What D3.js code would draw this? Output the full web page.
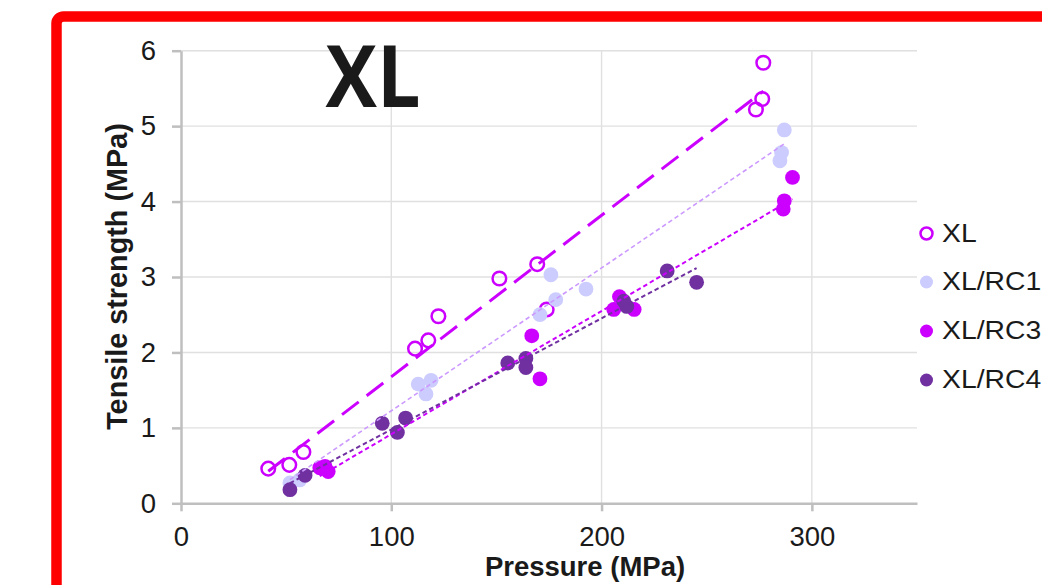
<!DOCTYPE html>
<html>
<head>
<meta charset="utf-8">
<script src="https://cdn.jsdelivr.net/npm/d3@7"></script>
<style>
  html, body { margin: 0; padding: 0; background: #ffffff; }
  svg { display: block; }
  text { font-family: "Liberation Sans", Arial, sans-serif; fill: #1a1a1a; }
</style>
</head>
<body>
<svg id="chart" width="1042" height="585"></svg>
<script>
// Tensile strength vs compaction pressure for XL and its RC blends
const seriesNames = ["XL", "XL/RC1", "XL/RC3", "XL/RC4"];

const xlPressure  = [41.5, 51.5, 58.2, 111.3, 117.6, 122.4, 151.4, 169.4, 173.9, 273.4, 276.4, 276.9];
const xlStrength  = [0.46, 0.51, 0.68, 2.05, 2.16, 2.48, 2.98, 3.17, 2.57, 5.22, 5.36, 5.84];

const rc1Pressure = [51.8, 56.4, 112.8, 116.5, 118.9, 170.7, 175.9, 178.2, 192.6, 284.8, 285.6, 286.9];
const rc1Strength = [0.27, 0.31, 1.58, 1.45, 1.63, 2.50, 3.03, 2.70, 2.84, 4.54, 4.65, 4.95];

const rc3Pressure = [66.0, 68.5, 70.0, 166.8, 170.7, 205.8, 208.5, 215.5, 286.4, 286.9, 290.8];
const rc3Strength = [0.47, 0.49, 0.42, 2.22, 1.65, 2.57, 2.74, 2.57, 3.90, 4.01, 4.32];

const rc4Pressure = [51.8, 59.0, 95.7, 102.9, 106.8, 155.4, 164.0, 164.0, 210.6, 212.0, 231.2, 245.2];
const rc4Strength = [0.18, 0.37, 1.06, 0.94, 1.13, 1.86, 1.92, 1.80, 2.68, 2.61, 3.08, 2.93];

const xTicks = [0, 100, 200, 300];
const yTicks = [0, 1, 2, 3, 4, 5, 6];

const chartTitle = "XL";
const xTitle = "Pressure (MPa)";
const yTitle = "Tensile strength (MPa)";

// Marker and trendline styling per series
const styles = [
  { color: "#cc00ff", hollow: true,  trend: "#cc00ff", dash: "21,10", trendWidth: 3 },
  { color: "#ccccff", hollow: false, trend: "#cc99ff", dash: "4.5,3", trendWidth: 1.6 },
  { color: "#cc00ff", hollow: false, trend: "#cc00ff", dash: "4.5,3", trendWidth: 2 },
  { color: "#7030a0", hollow: false, trend: "#7030a0", dash: "4.5,3", trendWidth: 2 }
];

const pressures = [xlPressure, rc1Pressure, rc3Pressure, rc4Pressure];
const strengths = [xlStrength, rc1Strength, rc3Strength, rc4Strength];

const series = seriesNames.map((name, i) => ({
  name,
  style: styles[i],
  points: pressures[i].map((p, j) => ({ x: p, y: strengths[i][j] }))
}));

const svg = d3.select("#chart");

// Red frame running off the right and bottom edges
svg.append("rect")
  .attr("x", 56.5).attr("y", 16.5)
  .attr("width", 1100).attr("height", 700)
  .attr("rx", 7)
  .attr("fill", "#ffffff")
  .attr("stroke", "#ff0000")
  .attr("stroke-width", 10.5);

const x = d3.scaleLinear().domain([0, 350]).range([181, 917]);
const y = d3.scaleLinear().domain([0, 6]).range([503.3, 50.7]);

// Gridlines
const grid = svg.append("g");
grid.selectAll("line.h").data(yTicks.filter(d => d > 0)).join("line")
  .attr("x1", x(0)).attr("x2", x(350))
  .attr("y1", d => y(d)).attr("y2", d => y(d))
  .attr("stroke", "#e0e0e0").attr("stroke-width", 1.4);
grid.selectAll("line.v").data(xTicks.filter(d => d > 0)).join("line")
  .attr("y1", y(0)).attr("y2", y(6))
  .attr("x1", d => x(d)).attr("x2", d => x(d))
  .attr("stroke", "#e0e0e0").attr("stroke-width", 1.4);

// Axes
const xAxis = svg.append("g")
  .attr("transform", `translate(0,${y(0)})`)
  .call(d3.axisBottom(x).tickValues(xTicks).tickFormat(d3.format("d"))
    .tickSize(8).tickSizeOuter(0).tickPadding(15));
const yAxis = svg.append("g")
  .attr("transform", `translate(${x(0)},0)`)
  .call(d3.axisLeft(y).tickValues(yTicks).tickFormat(d3.format("d"))
    .tickSize(9).tickSizeOuter(0).tickPadding(16));

[xAxis, yAxis].forEach(a => {
  a.select(".domain").attr("stroke", "#bfbfbf").attr("stroke-width", 2.5);
  a.selectAll(".tick line").attr("stroke", "#bfbfbf").attr("stroke-width", 2.5);
  a.selectAll(".tick text")
    .attr("fill", "#1a1a1a")
    .style("font-family", "'Liberation Sans', Arial, sans-serif")
    .style("font-size", "27.5px");
});

// Axis titles
svg.append("text")
  .attr("x", 585).attr("y", 576)
  .attr("text-anchor", "middle")
  .style("font-size", "27.5px").style("font-weight", "bold")
  .text(xTitle);

svg.append("text")
  .attr("transform", "translate(127,276.5) rotate(-90)")
  .attr("text-anchor", "middle")
  .style("font-size", "28.8px").style("font-weight", "bold")
  .text(yTitle);

// Chart title
svg.append("text")
  .attr("x", 373).attr("y", 106.7)
  .attr("text-anchor", "middle")
  .attr("textLength", 95)
  .attr("lengthAdjust", "spacingAndGlyphs")
  .style("font-family", "'Open Sans', sans-serif")
  .style("font-size", "86px").style("font-weight", "bold")
  .attr("fill", "#000000")
  .text(chartTitle);

// Markers
const markerLayer = svg.append("g");
series.forEach(s => {
  markerLayer.append("g").selectAll("circle").data(s.points).join("circle")
    .attr("cx", d => x(d.x)).attr("cy", d => y(d.y))
    .attr("r", s.style.hollow ? 6.8 : 7.4)
    .attr("fill", s.style.hollow ? "none" : s.style.color)
    .attr("stroke", s.style.hollow ? s.style.color : "none")
    .attr("stroke-width", s.style.hollow ? 2.5 : 0);
});

// Linear least-squares trendlines spanning each series' pressure range
function fit(points) {
  const mx = d3.mean(points, d => d.x), my = d3.mean(points, d => d.y);
  const sxy = d3.sum(points, d => (d.x - mx) * (d.y - my));
  const sxx = d3.sum(points, d => (d.x - mx) ** 2);
  const slope = sxy / sxx;
  return { slope, intercept: my - slope * mx };
}
const trendLayer = svg.append("g");
series.forEach(s => {
  const f = fit(s.points);
  const [x0, x1] = d3.extent(s.points, d => d.x);
  const ends = [x0, x1].map(v => ({ x: v, y: f.intercept + f.slope * v }));
  trendLayer.append("path")
    .datum(ends)
    .attr("d", d3.line().x(d => x(d.x)).y(d => y(d.y)))
    .attr("fill", "none")
    .attr("stroke", s.style.trend)
    .attr("stroke-width", s.style.trendWidth)
    .attr("stroke-dasharray", s.style.dash);
});

// Legend
const legendRows = [233.5, 282, 331, 380];
const legend = svg.append("g");
series.forEach((s, i) => {
  const g = legend.append("g").attr("transform", `translate(926.5,${legendRows[i]})`);
  g.append("circle")
    .attr("r", s.style.hollow ? 6 : 6.5)
    .attr("fill", s.style.hollow ? "none" : s.style.color)
    .attr("stroke", s.style.hollow ? s.style.color : "none")
    .attr("stroke-width", s.style.hollow ? 2.5 : 0);
  g.append("text")
    .attr("transform", "translate(15.5,8) scale(1.09,1)")
    .style("font-size", "26px")
    .text(s.name);
});
</script>
</body>
</html>
